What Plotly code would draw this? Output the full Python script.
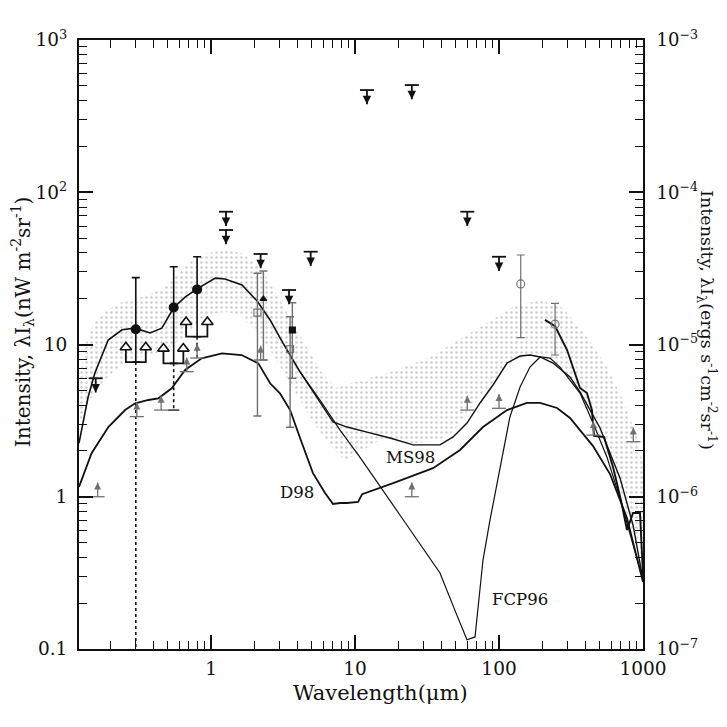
import numpy as np
import plotly.graph_objects as go

# ---------------- model curves (wavelength in micron, intensity in nW m^-2 sr^-1) ----------------
shared_wl = [0.121, 0.140, 0.156, 0.193, 0.241, 0.297, 0.377, 0.455, 0.551, 0.660, 0.80, 1.07, 1.25,
             1.64, 2.09, 2.57, 3.16, 3.71, 4.15]
shared_I = [2.25, 4.52, 6.50, 10.7, 12.5, 12.8, 11.9, 12.8, 17.5, 20.5, 23.2, 27.3, 26.9,
            24.6, 19.3, 14.5, 10.2, 7.91, 6.6]

ms98_wl = [4.15, 4.64, 5.71, 7.03, 8.80, 12.1, 17.5, 25.3, 38.9, 48.0, 59.9, 73.8, 90.8, 113.7,
           140, 164, 193, 237, 311, 365, 503, 692, 853, 1000]
ms98_I = [6.6, 5.59, 4.19, 3.10, 2.87, 2.66, 2.43, 2.19, 2.19, 2.47, 3.05, 4.13, 5.42, 7.56,
          8.40, 8.53, 8.28, 7.56, 6.12, 4.88, 2.83, 1.33, 0.65, 0.284]

fcp96_wl = [4.15, 5.71, 7.87, 10.8, 20.5, 38.9, 50.3, 59.9, 68.1, 77.4, 86.6, 101.6, 119, 140,
            164, 193, 226, 265, 311, 365, 450, 562, 692, 839, 1000]
fcp96_I = [6.6, 4.32, 2.74, 1.82, 0.759, 0.316, 0.172, 0.115, 0.12, 0.384, 0.704, 1.57, 3.34, 5.26,
           7.11, 8.28, 8.15, 7.11, 5.85, 4.80, 3.05, 1.82, 0.98, 0.52, 0.284]

d98_wl = [0.121, 0.148, 0.194, 0.253, 0.297, 0.367, 0.431, 0.533, 0.66, 0.861, 1.19, 1.63, 2.13,
          2.57, 3.01, 3.54, 4.15, 5.10, 6.19, 7.03, 7.87, 8.80, 10.5, 11.2, 18.4, 34.8, 53.6, 77.4,
          113.7, 156, 193, 253, 311, 450, 590, 774, 1000]
d98_I = [1.16, 1.93, 2.88, 3.71, 4.11, 4.32, 4.43, 5.16, 6.80, 8.11, 8.75, 8.53, 7.52,
         5.56, 4.78, 3.71, 2.43, 1.43, 1.06, 0.896, 0.91, 0.91, 0.925, 1.04, 1.23, 1.54, 2.03, 2.87,
         3.71, 4.13, 4.13, 3.83, 3.29, 2.15, 1.41, 0.725, 0.275]

firas_wl = [208.6, 245, 297, 365, 408, 442, 457, 536, 619, 703, 774, 853, 953, 1000]
firas_I = [14.5, 13.2, 9.20, 5.18, 4.80, 3.71, 2.51, 2.47, 1.57, 0.95, 0.605, 0.782, 0.782, 0.306]

# ---------------- stippled band ----------------
band_up_wl = [0.121, 0.1334, 0.156, 0.193, 0.253, 0.332, 0.442, 0.562, 0.715, 0.953, 1.25, 1.64, 2.26,
              3.01, 4.15, 5.71, 7.26, 11.4, 19.6, 33.2, 56.2, 96.9, 125, 193, 278, 408, 562, 726, 908, 1000]
band_up_I = [5.85, 9.92, 14.1, 16.9, 19.6, 20.5, 22.8, 27.8, 34.8, 39.9, 41.8, 39.9, 30.8,
             19.6, 11.5, 6.80, 5.18, 5.85, 6.80, 8.28, 11.2, 15.2, 17.6, 19.6, 17.4, 11.2, 7.11, 4.32, 2.47, 1.67]
band_lo_wl = [0.121, 0.1445, 0.1696, 0.2156, 0.274, 0.377, 0.480, 0.609, 0.774, 0.984, 1.25, 1.59, 2.02,
              2.57, 3.26, 4.15, 5.27, 6.70, 8.52, 10.0, 14.9, 25.3, 38.9, 48.0, 59.9, 82.5, 113.7, 140,
              178, 226, 287, 365, 503, 692, 879, 1000]
band_lo_I = [2.96, 4.32, 5.42, 6.80, 7.91, 8.53, 9.20, 10.7, 13.4, 15.6, 16.4, 15.6, 12.5,
             9.20, 6.31, 4.32, 2.96, 2.19, 1.74, 1.88, 2.36, 2.25, 2.36, 2.66, 3.60, 5.02, 7.34, 8.15,
             8.53, 7.91, 6.31, 4.66, 2.36, 1.11, 0.52, 0.384]

# ---------------- measurements ----------------
circ_wl = [0.30, 0.55, 0.80]
circ_I = [12.6, 17.5, 23.0]
circ_hi = [27.5, 32.4, 37.7]
circ_lo = [7.67, 7.52, 11.25]
circ_dot_lo = [0.1, 3.71, 8.15]

br_left_wl = [0.256, 0.467, 0.671]
br_right_wl = [0.352, 0.642, 0.943]
br_I = [7.67, 7.52, 11.25]

osq_wl = [2.10, 3.54]
osq_I = [16.2, 9.30]
osq_hi = [29.4, 15.2]
osq_lo = [3.39, 2.86]

tri_wl = [2.31]
tri_I = [19.9]
tri_hi = [30.4]
tri_lo = [7.91]

fsq_wl = [3.67]
fsq_I = [12.45]
fsq_hi = [18.8]
fsq_lo = [6.0]

oc_wl = [141.5, 245]
oc_I = [25.0, 13.6]
oc_hi = [38.7, 18.6]
oc_lo = [11.1, 8.53]

ul_wl = [0.158, 1.27, 1.27, 2.21, 3.48, 4.92, 12.1, 24.8, 60.2, 100]
ul_I = [6.0, 74.5, 56.5, 39.3, 22.8, 40.7, 469, 506, 74.5, 37.7]

ll_wl = [0.163, 0.305, 0.45, 0.678, 0.80, 2.21, 24.8, 60.2, 100, 452, 857]
ll_I = [1.0, 3.36, 3.71, 6.63, 8.15, 7.91, 1.0, 3.71, 3.81, 2.54, 2.30]

labels = ["D98", "MS98", "FCP96"]
label_wl = [3.96, 24.1, 140]
label_I = [1.07, 1.82, 0.213]

x_major = [1, 10, 100, 1000]
x_major_text = ["1", "10", "100", "1000"]
y_major = [0.1, 1, 10, 100, 1000]
y_major_text = ["0.1", "1", "10", "10<sup>2</sup>", "10<sup>3</sup>"]
y2_major = [1e-7, 1e-6, 1e-5, 1e-4, 1e-3]
y2_major_text = ["10<sup>\u22127</sup>", "10<sup>\u22126</sup>", "10<sup>\u22125</sup>",
                 "10<sup>\u22124</sup>", "10<sup>\u22123</sup>"]

# ---------------- styles ----------------
FONT = "DejaVu Serif"
INK = "#111111"
GREY = "#707070"
ARROW_F = 1.25   # length of bracket arrow stems (ratio on the log axis)
LIM_F = 1.24     # length of limit arrows (ratio on the log axis)

fig = go.Figure()

# band
fig.add_trace(go.Scatter(
    x=band_up_wl + band_lo_wl[::-1], y=band_up_I + band_lo_I[::-1],
    mode="lines", line=dict(width=0), fill="toself", fillcolor="rgba(255,255,255,0)",
    fillpattern=dict(shape=".", fgcolor="#999999", bgcolor="rgba(255,255,255,0)", size=5, solidity=0.2),
    hoverinfo="skip", showlegend=False))

# curves
fig.add_trace(go.Scatter(x=shared_wl, y=shared_I, mode="lines", line=dict(color=INK, width=1.6), showlegend=False))
fig.add_trace(go.Scatter(x=ms98_wl, y=ms98_I, mode="lines", line=dict(color=INK, width=1.4), showlegend=False))
fig.add_trace(go.Scatter(x=fcp96_wl, y=fcp96_I, mode="lines", line=dict(color=INK, width=1.2), showlegend=False))
fig.add_trace(go.Scatter(x=d98_wl, y=d98_I, mode="lines", line=dict(color=INK, width=1.8), showlegend=False))
fig.add_trace(go.Scatter(x=firas_wl, y=firas_I, mode="lines", line=dict(color=INK, width=1.9), showlegend=False))

# dotted lower extensions of filled circles
dx, dy = [], []
for w, a, b in zip(circ_wl, circ_lo, circ_dot_lo):
    dx += [w, w, None]
    dy += [a, b, None]
fig.add_trace(go.Scatter(x=dx, y=dy, mode="lines", line=dict(color=INK, width=1.6, dash="dot"), showlegend=False))
fig.add_trace(go.Scatter(x=circ_wl[1:2], y=circ_dot_lo[1:2], mode="markers",
                         marker=dict(symbol="line-ew", size=8, line=dict(width=1.3, color=INK)), showlegend=False))

# brackets with open arrows
bx, by, tx, ty = [], [], [], []
for l, r, v in zip(br_left_wl, br_right_wl, br_I):
    bx += [l, l, r, r, None]
    by += [v * ARROW_F, v, v, v * ARROW_F, None]
    tx += [l, r]
    ty += [v * ARROW_F, v * ARROW_F]
fig.add_trace(go.Scatter(x=bx, y=by, mode="lines", line=dict(color=INK, width=1.8), showlegend=False))
fig.add_trace(go.Scatter(x=tx, y=ty, mode="markers",
                         marker=dict(symbol="triangle-up", size=10, color="white", line=dict(width=1.6, color=INK)),
                         showlegend=False))


def points(x, y, hi, lo, symbol, size, mcolor, ecolor, lcolor=None, ew=1.4):
    up = [h - v for v, h in zip(y, hi)]
    dn = [v - l for v, l in zip(y, lo)]
    fig.add_trace(go.Scatter(
        x=x, y=y, mode="markers",
        marker=dict(symbol=symbol, size=size, color=mcolor, line=dict(width=1.1, color=lcolor or INK)),
        error_y=dict(type="data", symmetric=False, array=up, arrayminus=dn, color=ecolor,
                     thickness=ew, width=4),
        showlegend=False))


points(osq_wl, osq_I, osq_hi, osq_lo, "square-open", 7, GREY, GREY, GREY)
points(tri_wl, tri_I, tri_hi, tri_lo, "triangle-up", 6, INK, GREY)
points(fsq_wl, fsq_I, fsq_hi, fsq_lo, "square", 6, INK, GREY)
points(oc_wl, oc_I, oc_hi, oc_lo, "circle-open", 8, GREY, GREY, GREY, 1.2)
points(circ_wl, circ_I, circ_hi, circ_lo, "circle", 9, INK, INK, INK, 1.6)


def limits(wl, vals, up, color, width, head):
    sx, sy, hy = [], [], []
    for w, v in zip(wl, vals):
        end = v * LIM_F if up else v / LIM_F
        sx += [w, w, None]
        sy += [v, end, None]
        hy.append(end)
    fig.add_trace(go.Scatter(x=sx, y=sy, mode="lines", line=dict(color=color, width=width), showlegend=False))
    fig.add_trace(go.Scatter(x=wl, y=vals, mode="markers",
                             marker=dict(symbol="line-ew", size=10, line=dict(width=width, color=color)),
                             showlegend=False))
    fig.add_trace(go.Scatter(x=wl, y=hy, mode="markers",
                             marker=dict(symbol="arrow-up" if up else "arrow-down", size=head, color=color,
                                         line=dict(width=0)),
                             showlegend=False))


limits(ul_wl, ul_I, False, INK, 1.8, 8.5)
limits(ll_wl, ll_I, True, GREY, 1.3, 7)

# dummy trace for right axis
fig.add_trace(go.Scatter(x=[1], y=[1e-5], yaxis="y2", mode="markers", marker=dict(opacity=0),
                         hoverinfo="skip", showlegend=False))

annotations = []
for t, w, v in zip(labels, label_wl, label_I):
    annotations.append(dict(x=np.log10(w), y=np.log10(v), xref="x", yref="y", text=t, showarrow=False,
                            xanchor="center", yanchor="middle",
                            font=dict(family=FONT, size=16.5, color=INK)))

annotations.append(dict(x=0.534, y=-0.072, xref="paper", yref="paper", text="Wavelength(\u03bcm)",
                        xanchor="center", yanchor="middle",
                        showarrow=False, font=dict(family=FONT, size=21, color=INK)))
annotations.append(dict(x=-0.099, y=0.537, xref="paper", yref="paper", textangle=-90,
                        xanchor="center", yanchor="middle",
                        text="Intensity, \u03bbI<sub>\u03bb</sub>(nW m<sup>-2</sup>sr<sup>-1</sup>)",
                        showarrow=False, font=dict(family=FONT, size=20, color=INK)))
annotations.append(dict(x=1.1135, y=0.540, xref="paper", yref="paper", textangle=90,
                        xanchor="center", yanchor="middle",
                        text="Intensity, \u03bbI<sub>\u03bb</sub>(ergs s<sup>-1</sup>cm<sup>-2</sup>sr<sup>-1</sup>)",
                        showarrow=False, font=dict(family=FONT, size=17.5, color=INK)))


def minor_vals(lo, hi):
    return [k * 10.0 ** e for e in range(lo, hi) for k in range(2, 10)]


tickfont = dict(family=FONT, size=18.5, color=INK)
fig.update_layout(
    width=727, height=727,
    margin=dict(l=71, r=92, t=32, b=86),
    paper_bgcolor="white", plot_bgcolor="white",
    showlegend=False,
    annotations=annotations,
    xaxis=dict(type="log", range=[np.log10(0.121), 3], showline=True, linecolor=INK, linewidth=2,
               mirror="ticks", ticks="inside", ticklen=14, tickwidth=1.5, tickcolor=INK,
               tickmode="array", tickvals=x_major, ticktext=x_major_text, tickfont=tickfont,
               ticklabelstandoff=2, showgrid=False, zeroline=False,
               minor=dict(tickmode="array", tickvals=minor_vals(-1, 3), ticks="inside", ticklen=8,
                          tickwidth=1.2, tickcolor=INK, showgrid=False)),
    yaxis=dict(type="log", range=[-1, 3], showline=True, linecolor=INK, linewidth=2,
               ticks="inside", ticklen=14, tickwidth=1.5, tickcolor=INK,
               tickmode="array", tickvals=y_major, ticktext=y_major_text, tickfont=tickfont,
               ticklabelstandoff=6, showgrid=False, zeroline=False,
               minor=dict(tickmode="array", tickvals=minor_vals(-1, 3), ticks="inside", ticklen=8,
                          tickwidth=1.2, tickcolor=INK, showgrid=False)),
    yaxis2=dict(type="log", range=[-7, -3], overlaying="y", side="right", showline=True, linecolor=INK,
                linewidth=2, ticks="inside", ticklen=14, tickwidth=1.5, tickcolor=INK,
                tickmode="array", tickvals=y2_major, ticktext=y2_major_text,
                tickfont=dict(family=FONT, size=18, color=INK),
                ticklabelstandoff=8, showgrid=False, zeroline=False,
                minor=dict(tickmode="array", tickvals=minor_vals(-7, -3), ticks="inside", ticklen=8,
                           tickwidth=1.2, tickcolor=INK, showgrid=False)),
)

fig.write_html("out.html")
